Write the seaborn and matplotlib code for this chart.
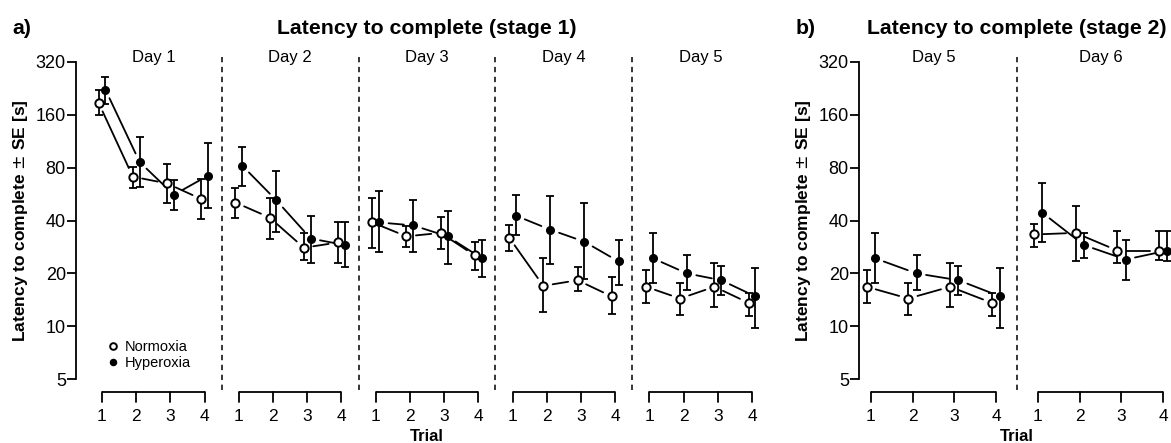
import numpy as np
import pandas as pd
import matplotlib
matplotlib.use("Agg")
import matplotlib.pyplot as plt
import seaborn as sns

# -----------------------------
# Data (mean and SE band, seconds)
# -----------------------------
trials = [1, 2, 3, 4]
days_stage1 = ["Day 1", "Day 2", "Day 3", "Day 4", "Day 5"]
days_stage2 = ["Day 5", "Day 6"]
y_ticks = [5, 10, 20, 40, 80, 160, 320]

norm_s1_mean = [187, 71, 65, 53, 50.6, 41.6, 28, 30, 39, 32.5, 34, 25.3,
                32, 17, 18.3, 14.8, 16.8, 14.4, 16.8, 13.6]
norm_s1_hi = [222, 81, 84, 69, 61.5, 54, 34, 39, 54, 37.4, 42, 30.3,
              37.8, 24.4, 21.8, 19.2, 21, 17.6, 23, 15.5]
norm_s1_lo = [160, 61.5, 50.6, 41, 41.6, 31.6, 24, 23, 28, 28.3, 27.7, 21,
              27, 12, 15.8, 11.8, 13.6, 11.6, 12.9, 11.4]

hyp_s1_mean = [222, 86, 56, 72, 82, 52, 31.6, 29, 39, 37.5, 32.5, 24.4,
               42.6, 35.5, 30.3, 23.4, 24.4, 20, 18.3, 14.8]
hyp_s1_hi = [263, 119, 68, 111, 105, 76, 42.5, 39, 58.6, 52, 45.5, 31,
             55.7, 55, 50, 31, 34, 25.3, 22, 21.5]
hyp_s1_lo = [184, 62, 46, 47, 63, 34.6, 23, 21.9, 26.4, 26.4, 22.7, 19,
             33, 22.7, 18.5, 17.3, 17.6, 16, 15, 9.8]

norm_s2_mean = [16.8, 14.4, 16.8, 13.6, 33.3, 34, 27, 27]
norm_s2_hi = [21, 17.6, 23, 15.5, 38, 48.5, 35, 35]
norm_s2_lo = [13.6, 11.6, 12.9, 11.4, 28.3, 23.5, 23, 24]

hyp_s2_mean = [24.4, 20, 18.3, 14.8, 44.4, 29, 24, 27]
hyp_s2_hi = [34, 25.3, 22, 21.5, 65, 34, 31, 35]
hyp_s2_lo = [17.6, 16, 15, 9.8, 30, 24.4, 18.3, 23.5]


def make_df(days, n_mean, n_lo, n_hi, h_mean, h_lo, h_hi):
    rows = []
    for g, (m, lo, hi) in {"Normoxia": (n_mean, n_lo, n_hi),
                           "Hyperoxia": (h_mean, h_lo, h_hi)}.items():
        for i in range(len(m)):
            d = i // len(trials)
            rows.append(dict(group=g, day=days[d], day_idx=d,
                             trial=trials[i % len(trials)],
                             mean=m[i], lo=lo[i], hi=hi[i]))
    df = pd.DataFrame(rows)
    df["pos"] = df["day_idx"] * len(trials) + df["trial"]
    df["x"] = df["pos"] + np.where(df["group"] == "Normoxia", -0.1, 0.1)
    return df


df1 = make_df(days_stage1, norm_s1_mean, norm_s1_lo, norm_s1_hi,
              hyp_s1_mean, hyp_s1_lo, hyp_s1_hi)
df2 = make_df(days_stage2, norm_s2_mean, norm_s2_lo, norm_s2_hi,
              hyp_s2_mean, hyp_s2_lo, hyp_s2_hi)

# -----------------------------
# Style
# -----------------------------
sns.set_theme(style="white")
plt.rcParams["font.family"] = ["Liberation Sans", "DejaVu Sans"]
plt.rcParams["mathtext.fontset"] = "dejavusans"
for key in ["text.color", "axes.labelcolor", "xtick.color", "ytick.color"]:
    plt.rcParams[key] = "black"

W, H = 1171, 443
fig = plt.figure(figsize=(W / 100, H / 100), dpi=100)
LW = 1.3
styles = {"Normoxia": dict(mfc="white", ms=6, mew=1.4),
          "Hyperoxia": dict(mfc="black", ms=5.5, mew=1.0)}


def px_axes(x0, x1, y0, y1):
    return fig.add_axes([x0 / W, 1 - y1 / H, (x1 - x0) / W, (y1 - y0) / H])


def draw_panel(ax, df, days, title, letter, letter_x, show_legend):
    n = len(days) * len(trials)
    span = n - 1
    ax.set_xlim(1 - 0.04 * span, n + 0.04 * span)
    ax.set_yscale("log", base=2)
    ax.set_ylim(5 * 2 ** -0.24, 320 * 2 ** 0.24)
    for s in ax.spines.values():
        s.set_visible(False)
    ax.spines["left"].set_visible(True)
    ax.spines["left"].set_bounds(5, 320)
    ax.spines["left"].set_linewidth(LW)
    ax.spines["left"].set_color("black")
    ax.set_yticks(y_ticks)
    ax.set_yticklabels([str(t) for t in y_ticks])
    ax.yaxis.set_minor_locator(matplotlib.ticker.NullLocator())
    ax.tick_params(axis="y", direction="out", length=6.5, width=LW,
                   labelsize=13, pad=0.8, colors="black", left=True)
    ax.tick_params(axis="x", bottom=False, labelbottom=False)
    ax.grid(False)

    # per-day trial axes under the plot
    xt = ax.get_xaxis_transform()
    for d in range(len(days)):
        pos = [d * len(trials) + t for t in trials]
        ax.plot([pos[0], pos[-1]], [0, 0], color="black", lw=LW,
                transform=xt, clip_on=False, solid_capstyle="butt")
        for p, t in zip(pos, trials):
            ax.plot([p, p], [0, -0.028], color="black", lw=LW,
                     transform=xt, clip_on=False)
            ax.text(p, -0.072, str(t), transform=xt, ha="center",
                    va="center", fontsize=12.5)
        ax.text(np.mean(pos), 0.975, days[d], transform=xt, ha="center",
                va="center", fontsize=12)
        if d > 0:
            ax.axvline(d * len(trials) + 0.5, ymin=0.006, ymax=0.977,
                       color="black", lw=1.1, ls=(0, (3.5, 3)))

    # error bars
    for g in ["Normoxia", "Hyperoxia"]:
        sub = df[df["group"] == g]
        ax.errorbar(sub["x"], sub["mean"],
                    yerr=[sub["mean"] - sub["lo"], sub["hi"] - sub["mean"]],
                    fmt="none", ecolor="black", elinewidth=LW, capsize=3,
                    capthick=LW, zorder=2)

    # connecting lines with gaps around points (R type="b")
    gap = 9.5
    for g in ["Normoxia", "Hyperoxia"]:
        for d in range(len(days)):
            sub = df[(df["group"] == g) & (df["day_idx"] == d)].sort_values("x")
            pts = ax.transData.transform(np.column_stack([sub["x"], sub["mean"]]))
            for a, b in zip(pts[:-1], pts[1:]):
                v = b - a
                L = np.hypot(*v)
                if L <= 2 * gap:
                    continue
                u = v / L
                seg = ax.transData.inverted().transform([a + u * gap, b - u * gap])
                ax.plot(seg[:, 0], seg[:, 1], color="black", lw=LW, zorder=3)

    # points
    for g in ["Normoxia", "Hyperoxia"]:
        sub = df[df["group"] == g]
        ax.plot(sub["x"], sub["mean"], "o", mec="black", label=g,
                zorder=4, clip_on=False, **styles[g])

    ax.text(0.5, 1.06, title, transform=ax.transAxes, ha="center",
            va="center", fontsize=15.3, fontweight="bold")
    fig.text(letter_x / W, 1 - 28 / H, letter, ha="center", va="center",
             fontsize=15.3, fontweight="bold")
    ax.text(0.5, -0.131, "Trial", transform=ax.transAxes, ha="center",
            va="center", fontsize=12, fontweight="bold")
    ax.set_ylabel(r"Latency to complete $\pm$ SE [s]", fontsize=12.5,
                  fontweight="bold", labelpad=4)

    if show_legend:
        ax.legend(loc="lower left", bbox_to_anchor=(0.032, 0.033),
                  frameon=False, fontsize=10.5, handlelength=0.6,
                  handletextpad=0.5, labelspacing=0.15,
                  borderpad=0.2, markerscale=0.8)


ax1 = px_axes(76, 778, 49, 392)
ax2 = px_axes(859, 1175, 49, 392)
fig.canvas.draw()
draw_panel(ax1, df1, days_stage1, "Latency to complete (stage 1)", "a)", 22, True)
draw_panel(ax2, df2, days_stage2, "Latency to complete (stage 2)", "b)", 806, False)

fig.savefig("out.png", dpi=100)
